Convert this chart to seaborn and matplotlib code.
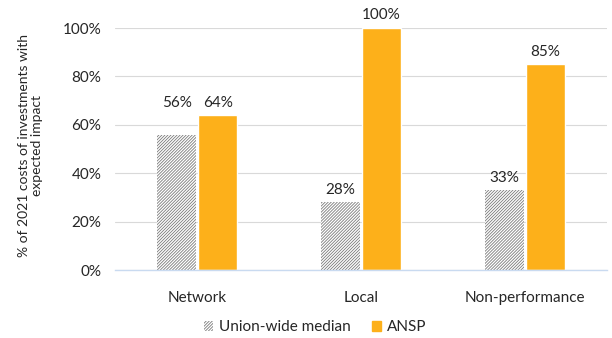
import numpy as np
import pandas as pd
import matplotlib
matplotlib.use("Agg")
import matplotlib.pyplot as plt
import seaborn as sns
from matplotlib.patches import Patch

# --- data ---
categories = ["Network", "Local", "Non-performance"]
union_median = [56, 28, 33]
ansp = [64, 100, 85]
series_names = ["Union-wide median", "ANSP"]
y_ticks = [0, 20, 40, 60, 80, 100]

df = pd.DataFrame({
    "category": categories * 2,
    "series": [series_names[0]] * 3 + [series_names[1]] * 3,
    "value": union_median + ansp,
})

sns.set_theme(style="white")
plt.rcParams["font.family"] = ["Lato", "DejaVu Sans"]
plt.rcParams["hatch.linewidth"] = 0.6

orange = "#FDB01A"
grey_hatch = "#7a7a7a"
text_col = "#262626"
fs = 11
hatch = "/" * 11

fig = plt.figure(figsize=(6.12, 3.38), dpi=100)
ax = fig.add_axes([0.188, 0.201, 0.804, 0.716])

sns.barplot(data=df, x="category", y="value", hue="series",
            palette=["white", orange], width=0.5, gap=0.05,
            saturation=1, ax=ax, legend=False)

# hatch the median bars
for bar in ax.containers[0]:
    bar.set_hatch(hatch)
    bar.set_edgecolor(grey_hatch)
    bar.set_linewidth(0)

# value labels (median label lifted when it sits too close to ANSP bar)
for i, (m, a) in enumerate(zip(union_median, ansp)):
    bm = ax.containers[0][i]
    ba = ax.containers[1][i]
    ym = a if a - m < 15 else m
    ax.annotate(f"{m}%", (bm.get_x() + bm.get_width() / 2, ym),
                xytext=(0, 4), textcoords="offset points",
                ha="center", va="bottom", fontsize=fs, color=text_col)
    ax.annotate(f"{a}%", (ba.get_x() + ba.get_width() / 2, a),
                xytext=(0, 4), textcoords="offset points",
                ha="center", va="bottom", fontsize=fs, color=text_col,
                annotation_clip=False)

ax.set_ylim(0, 100)
ax.set_xlim(-0.5, len(categories) - 0.5)
ax.set_yticks(y_ticks)
ax.set_yticklabels([f"{t}%" for t in y_ticks])
ax.yaxis.grid(True, color="#d9d9d9", linewidth=0.8)
ax.set_axisbelow(True)
for s in ["top", "right", "left"]:
    ax.spines[s].set_visible(False)
ax.spines["bottom"].set_color("#c9daf0")
ax.spines["bottom"].set_linewidth(1)
ax.tick_params(axis="y", length=0, pad=10, labelsize=fs, labelcolor=text_col)
ax.tick_params(axis="x", length=0, pad=15, labelsize=fs, labelcolor=text_col)
ax.set_xlabel("")
ax.set_ylabel("")

# y label as centred two-line rotated text
fig.text(0.05, 0.57, "% of 2021 costs of investments with\nexpected impact",
         rotation=90, ha="center", va="center", multialignment="center",
         fontsize=10, color=text_col, linespacing=1.15)

handles = [Patch(facecolor="white", edgecolor=grey_hatch, hatch=hatch, linewidth=0),
           Patch(facecolor=orange, edgecolor=orange)]
fig.legend(handles, series_names, loc="lower center", bbox_to_anchor=(0.515, -0.03),
           ncol=2, frameon=False, fontsize=fs, handlelength=0.6, handleheight=0.6,
           columnspacing=1.4, handletextpad=0.4, labelcolor=text_col)

fig.savefig("out.png", dpi=100)
